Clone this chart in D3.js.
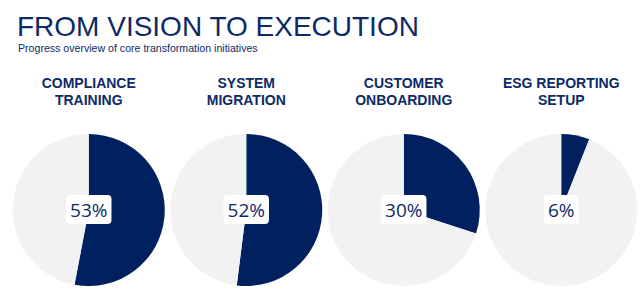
<!DOCTYPE html>
<html>
<head>
<meta charset="utf-8">
<script src="https://cdn.jsdelivr.net/npm/d3@7"></script>
<style>
  body { margin: 0; background: #ffffff; }
</style>
</head>
<body>
<div id="chart"></div>
<script>
// chart data
var initiatives = [["COMPLIANCE", "TRAINING"], ["SYSTEM", "MIGRATION"],
    ["CUSTOMER", "ONBOARDING"], ["ESG REPORTING", "SETUP"]];
var progress = [53, 52, 30, 6];

var titleText = "FROM VISION TO EXECUTION";
var subtitleText = "Progress overview of core transformation initiatives";

var width = 640, height = 300;
var navy = "#002060", rest = "#f2f2f2";

var svg = d3.select("#chart").append("svg")
    .attr("width", width)
    .attr("height", height);

svg.append("text")
    .attr("x", 17)
    .attr("y", 36)
    .attr("fill", "#0d2a66")
    .style("font-family", "Liberation Sans, Arial, sans-serif")
    .style("font-size", "28px")
    .text(titleText);

svg.append("text")
    .attr("x", 18)
    .attr("y", 52)
    .attr("fill", "#0d2a66")
    .style("font-family", "Liberation Sans, Arial, sans-serif")
    .style("font-size", "10.6px")
    .text(subtitleText);

// one column per initiative
var x = d3.scaleBand()
    .domain(d3.range(progress.length))
    .range([10, 640]);

var radius = 76;
var pie = d3.pie().sort(null).value(function (d) { return d; });
var arc = d3.arc().innerRadius(0).outerRadius(radius);

var col = svg.selectAll("g.col")
    .data(progress)
    .enter().append("g")
    .attr("class", "col")
    .attr("transform", function (d, i) {
        return "translate(" + (x(i) + x.bandwidth() / 2) + ",0)";
    });

col.append("text")
    .attr("text-anchor", "middle")
    .attr("fill", "#0d2a66")
    .style("font-family", "Liberation Sans, Arial, sans-serif")
    .style("font-weight", "bold")
    .style("font-size", "14px")
    .selectAll("tspan")
    .data(function (d, i) { return initiatives[i]; })
    .enter().append("tspan")
    .attr("x", 0)
    .attr("y", function (d, j) { return 88 + j * 17; })
    .text(function (d) { return d; });

var pieG = col.append("g")
    .attr("transform", "translate(0,210)");

pieG.selectAll("path")
    .data(function (d) { return pie([d, 100 - d]); })
    .enter().append("path")
    .attr("d", arc)
    .attr("fill", function (d, i) { return i == 0 ? navy : rest; });

// percentage badge
pieG.each(function (d) {
    var g = d3.select(this);
    var label = g.append("text")
        .attr("text-anchor", "middle")
        .attr("y", 7)
        .attr("fill", "#0d2a66")
        .style("font-family", "Open Sans, Noto Sans, sans-serif")
        .style("font-size", "19px")
        .text(d + "%");
    var box = label.node().getBBox();
    g.insert("rect", "text")
        .attr("x", box.x - 4)
        .attr("y", -15)
        .attr("width", box.width + 8)
        .attr("height", 29)
        .attr("rx", 4)
        .attr("fill", "#ffffff");
});
</script>
</body>
</html>
